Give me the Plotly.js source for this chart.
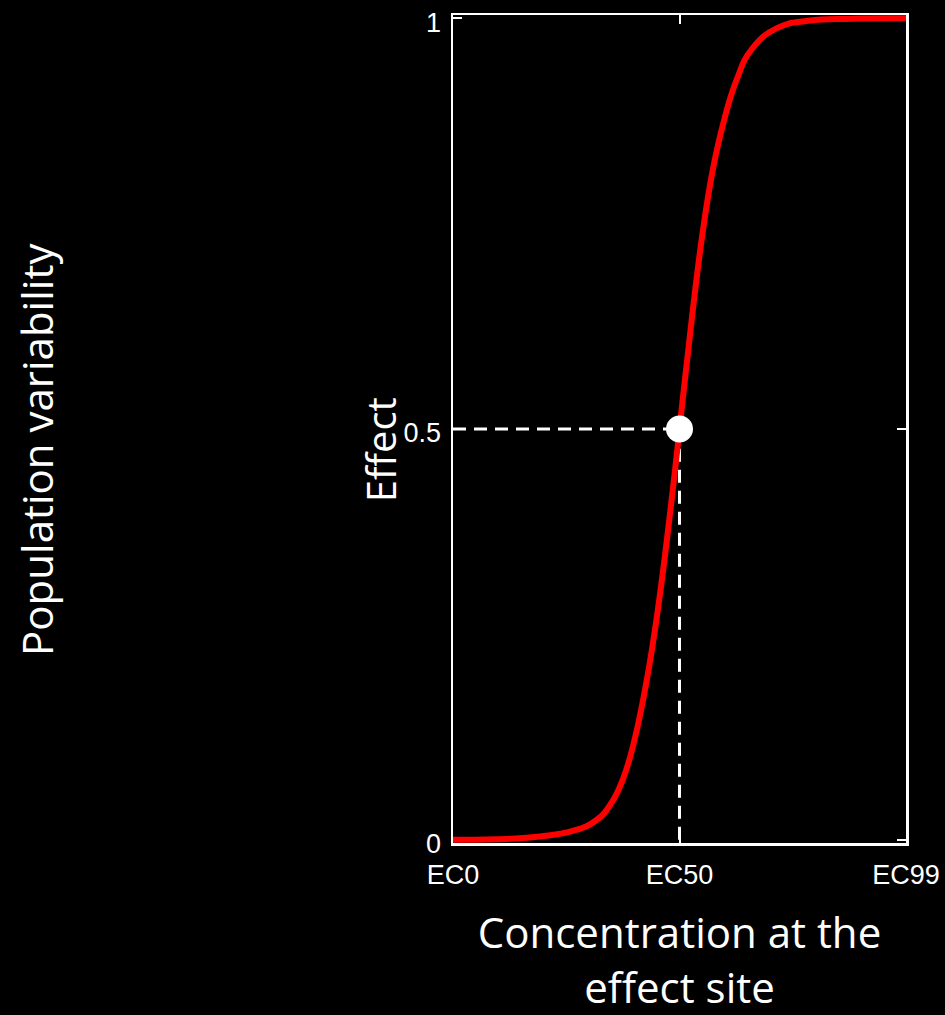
<!DOCTYPE html>
<html>
<head>
<meta charset="utf-8">
<script src="https://cdn.plot.ly/plotly-3.0.1.min.js"></script>
<style>html,body{margin:0;padding:0;background:#000;}#chart{width:945px;height:1015px;}</style>
</head>
<body>
<div id="chart"></div>
<script>
// Concentration (EC0 = 0, EC50 = 50, EC99 = 100) and effect
var concentration = [0, 12, 19.2, 26.6, 31.7, 35.0, 37.6, 40.0, 42.8, 45.3, 48.6, 50, 51.4, 55.0, 57.4, 59.8, 62.6, 65.9, 71.5, 78.4, 88, 100];
var effect =        [0, 0.001, 0.004, 0.011, 0.024, 0.045, 0.075, 0.12, 0.195, 0.283, 0.43, 0.5, 0.57, 0.735, 0.817, 0.875, 0.925, 0.962, 0.988, 0.997, 0.9995, 1.0];
var ec50Conc = 50;
var ec50Effect = 0.5;
var xTickVals = [0, 50, 100];
var xTickText = ["EC0", "EC50", "EC99"];
var yTickVals = [0, 0.5, 1];
var yTickText = ["0", "0.5", "1"];

var white = "#ffffff";
var red = "#ff0000";

var traces = [
  {x: [0, ec50Conc], y: [ec50Effect, ec50Effect], mode: "lines", line: {color: white, width: 3, dash: "13px,8px"}, hoverinfo: "skip"},
  {x: [ec50Conc, ec50Conc], y: [0, ec50Effect], mode: "lines", line: {color: white, width: 3, dash: "13px,8px"}, hoverinfo: "skip"},
  {x: concentration, y: effect, mode: "lines", line: {color: red, width: 6, shape: "spline", smoothing: 1.3}},
  {x: [ec50Conc], y: [ec50Effect], mode: "markers", marker: {color: white, size: 27}, cliponaxis: false}
];

var tickFont = {family: "Liberation Sans, Arial, sans-serif", size: 27, color: white};
var titleFont = {family: "Open Sans, sans-serif", size: 42, color: white};
var effectFont = {family: "Open Sans, sans-serif", size: 40, color: white};

var layout = {
  width: 945, height: 1015,
  paper_bgcolor: "#000", plot_bgcolor: "#000",
  margin: {l: 453, r: 39, t: 15, b: 172},
  showlegend: false,
  xaxis: {
    range: [0, 100], tickvals: xTickVals, ticktext: xTickText,
    ticks: "inside", ticklen: 9, tickwidth: 2, tickcolor: white,
    showline: true, linecolor: white, linewidth: 2.5, mirror: "ticks",
    showgrid: false, zeroline: false, tickfont: tickFont, layer: "below traces",
    ticklabeloverflow: "allow", ticklabelstandoff: 6,
    title: {text: "Concentration at the<br>effect site", font: titleFont, standoff: 47}
  },
  yaxis: {
    range: [-0.004, 1.004], tickvals: yTickVals, ticktext: yTickText,
    ticks: "inside", ticklen: 9, tickwidth: 2, tickcolor: white,
    showline: true, linecolor: white, linewidth: 2.5, mirror: "ticks",
    showgrid: false, zeroline: false, tickfont: tickFont, layer: "below traces",
    ticklabeloverflow: "allow", ticklabelstandoff: 4, ticklabelshift: 4
  },
  annotations: [
    {text: "Effect", xref: "paper", yref: "paper", x: -0.16, y: 0.475, textangle: -90, showarrow: false, font: effectFont, xanchor: "center", yanchor: "middle"},
    {text: "Population variability", xref: "paper", yref: "paper", x: -0.92, y: 0.475, textangle: -90, showarrow: false, font: titleFont, xanchor: "center", yanchor: "middle"}
  ]
};

Plotly.newPlot("chart", traces, layout, {displayModeBar: false, staticPlot: true});
</script>
</body>
</html>
